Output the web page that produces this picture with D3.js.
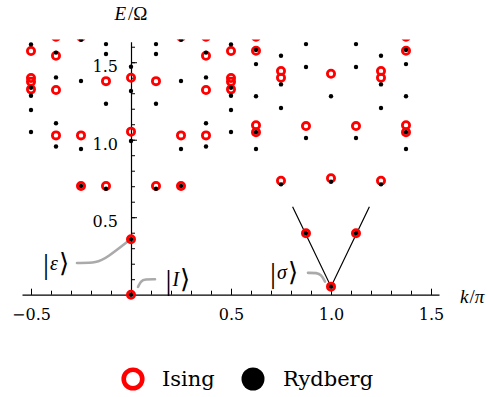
<!DOCTYPE html>
<html>
<head>
<meta charset="utf-8">
<script src="https://cdn.jsdelivr.net/npm/d3@7"></script>
<style>
  html, body { margin: 0; padding: 0; background: #fff; }
  svg { display: block; }
</style>
</head>
<body>
<svg id="chart" width="488" height="397"></svg>
<script>
// ---- data ----
const kValues = [-0.5, -0.375, -0.25, -0.125, 0, 0.125, 0.25, 0.375, 0.5, 0.625, 0.75, 0.875, 1.0, 1.125, 1.25, 1.375];

const isingLevels = [
  [1.572, 1.398, 1.374, 1.325],
  [1.665, 1.542, 1.321, 1.028],
  [1.665, 1.028, 0.701],
  [1.378, 0.701],
  [1.400, 1.052, 0.358, 0.0],
  [1.378, 0.701],
  [1.665, 1.028, 0.701],
  [1.665, 1.542, 1.321, 1.028],
  [1.572, 1.398, 1.374, 1.325],
  [1.665, 1.574, 1.093, 1.048],
  [1.443, 1.400, 0.735],
  [1.088, 0.397],
  [1.426, 0.751, 0.052],
  [1.088, 0.397],
  [1.443, 1.400, 0.735],
  [1.665, 1.574, 1.093, 1.048]
];

const rydbergLevels = [
  [1.615, 1.335, 1.284, 1.192, 1.050],
  [1.562, 1.402, 1.106, 0.956],
  [1.645, 1.379, 0.940, 0.701],
  [1.617, 1.553, 1.232, 0.684],
  [1.471, 1.314, 0.992, 0.358, 0.0],
  [1.617, 1.553, 1.232, 0.684],
  [1.645, 1.379, 0.940, 0.701],
  [1.562, 1.402, 1.106, 0.956],
  [1.615, 1.335, 1.284, 1.192, 1.050],
  [1.579, 1.488, 1.280, 1.048, 0.940],
  [1.542, 1.357, 1.205, 0.712],
  [1.617, 1.469, 1.011, 0.397],
  [1.280, 0.729, 0.052],
  [1.617, 1.469, 1.011, 0.397],
  [1.542, 1.357, 1.205, 0.712],
  [1.579, 1.488, 1.280, 1.048, 0.940]
];

// linear dispersion guide around k = pi
const coneK = [0.808, 1.0, 1.192];
const coneE = [0.568, 0.052, 0.568];

const xMajorTicks = [-0.5, 0.5, 1.0, 1.5];
const yMajorTicks = [0.5, 1.0, 1.5];
const seriesNames = ["Ising", "Rydberg"];

// annotation callouts (data coords): label, label position, curve points
const stateLabels = [
  { name: "ε", at: [-0.44, 0.205], curve: [[-0.27, 0.205], [-0.17, 0.205], [-0.12, 0.24], [-0.015, 0.345]] },
  { name: "I", at: [0.172, 0.1], curve: [[0.035, 0.05], [0.05, 0.09], [0.07, 0.1], [0.12, 0.1]] },
  { name: "σ", at: [0.695, 0.145], curve: [[0.885, 0.141], [0.93, 0.141], [0.95, 0.13], [0.97, 0.085]] }
];

// ---- drawing ----
const svg = d3.select("#chart");
const x = d3.scaleLinear().domain([-0.545, 1.54]).range([22, 439]);
const y = d3.scaleLinear().domain([0, 1.646]).range([294.7, 39.6]);

const RED = "#ff0000";
const SERIF = "DejaVu Serif";
const MATH = "Liberation Serif";

svg.append("defs").append("clipPath").attr("id", "plotclip")
  .append("rect").attr("x", 0).attr("y", y(1.646)).attr("width", 488).attr("height", y(0) - y(1.646) + 10);

// axes
const yAxisScale = d3.scaleLinear().domain([0, 1.632]).range([y(0), y(1.632)]);
const gx = svg.append("g").attr("transform", `translate(0,${y(0)})`);
gx.call(d3.axisBottom(x).tickValues(d3.range(-5, 16).map(d => d / 10)).tickSizeInner(-4).tickSizeOuter(0).tickFormat(""));
gx.append("g").call(d3.axisBottom(x).tickValues(xMajorTicks).tickSizeInner(-6).tickSizeOuter(0).tickPadding(14).tickFormat(d3.format(".1f")))
  .call(g => g.select(".domain").remove());
gx.selectAll("line").attr("stroke", "#000").attr("stroke-width", 1);
gx.selectAll(".domain").attr("stroke", "#000").attr("stroke-width", 1.2);
gx.attr("font-family", SERIF);
gx.selectAll("g").attr("font-family", SERIF);
gx.selectAll("text").attr("font-size", 16).attr("font-family", SERIF).attr("fill", "#000");

const gy = svg.append("g").attr("transform", `translate(${x(0)},0)`);
gy.call(d3.axisLeft(yAxisScale).tickValues(d3.range(1, 17).map(d => d / 10)).tickSizeInner(-4).tickSizeOuter(0).tickFormat(""));
gy.append("g").call(d3.axisLeft(yAxisScale).tickValues(yMajorTicks).tickSizeInner(-6).tickSizeOuter(0).tickPadding(13).tickFormat(d3.format(".1f")))
  .call(g => g.select(".domain").remove());
gy.selectAll("line").attr("stroke", "#000").attr("stroke-width", 1);
gy.selectAll(".domain").attr("stroke", "#000").attr("stroke-width", 1.2);
gy.attr("font-family", SERIF);
gy.selectAll("g").attr("font-family", SERIF);
gy.selectAll("text").attr("font-size", 16).attr("font-family", SERIF).attr("fill", "#000").attr("dy", "0.6em");

// axis labels
const yl = svg.append("text").attr("x", x(0)).attr("y", 20).attr("text-anchor", "middle").attr("font-size", 19).attr("font-family", MATH);
yl.append("tspan").attr("font-style", "italic").text("E");
yl.append("tspan").attr("dx", 2).text("/Ω");
const xl = svg.append("text").attr("x", 460).attr("y", 303).attr("font-size", 19).attr("font-family", MATH);
xl.append("tspan").attr("font-style", "italic").text("k");
xl.append("tspan").attr("dx", 1).text("/");
xl.append("tspan").attr("font-style", "italic").text("π");

// callout curves
const curveLine = d3.line().x(d => x(d[0])).y(d => y(d[1])).curve(d3.curveBasis);
stateLabels.forEach(s => {
  svg.append("path").attr("d", curveLine(s.curve)).attr("fill", "none")
    .attr("stroke", "#aaaaaa").attr("stroke-width", 2.6).attr("stroke-linecap", "round");
  const t = svg.append("text").attr("x", x(s.at[0])).attr("y", y(s.at[1])).attr("dominant-baseline", "central").attr("font-family", MATH);
  t.append("tspan").attr("font-size", 30).text("|");
  t.append("tspan").attr("font-size", 20).attr("font-style", "italic").attr("dx", 1).text(s.name);
  t.append("tspan").attr("font-size", 26).attr("font-family", "DejaVu Serif").attr("dx", 1).text("⟩");
});

// cone lines
svg.append("path")
  .attr("d", d3.line().x((d, i) => x(coneK[i])).y((d, i) => y(coneE[i]))(coneK))
  .attr("fill", "none").attr("stroke", "#000").attr("stroke-width", 1.2);

const plot = svg.append("g").attr("clip-path", "url(#plotclip)");

const isingPts = [];
kValues.forEach((k, i) => isingLevels[i].forEach(e => isingPts.push([k, e])));
const rydPts = [];
kValues.forEach((k, i) => rydbergLevels[i].forEach(e => rydPts.push([k, e])));

plot.selectAll("circle.ising").data(isingPts).join("circle")
  .attr("class", "ising")
  .attr("cx", d => x(d[0])).attr("cy", d => y(d[1])).attr("r", 3.6)
  .attr("fill", "none").attr("stroke", RED).attr("stroke-width", 2.8);

plot.selectAll("circle.ryd").data(rydPts).join("circle")
  .attr("class", "ryd")
  .attr("cx", d => x(d[0])).attr("cy", d => y(d[1])).attr("r", 2.2)
  .attr("fill", "#000");

// legend
const leg = svg.append("g");
leg.append("circle").attr("cx", 133).attr("cy", 379).attr("r", 9.3).attr("fill", "none").attr("stroke", RED).attr("stroke-width", 4.6);
leg.append("text").attr("x", 162).attr("y", 386).attr("font-size", 21).attr("font-family", SERIF).text(seriesNames[0]);
leg.append("circle").attr("cx", 253).attr("cy", 379).attr("r", 11.5).attr("fill", "#000");
leg.append("text").attr("x", 283).attr("y", 386).attr("font-size", 21).attr("font-family", SERIF).text(seriesNames[1]);
</script>
</body>
</html>
